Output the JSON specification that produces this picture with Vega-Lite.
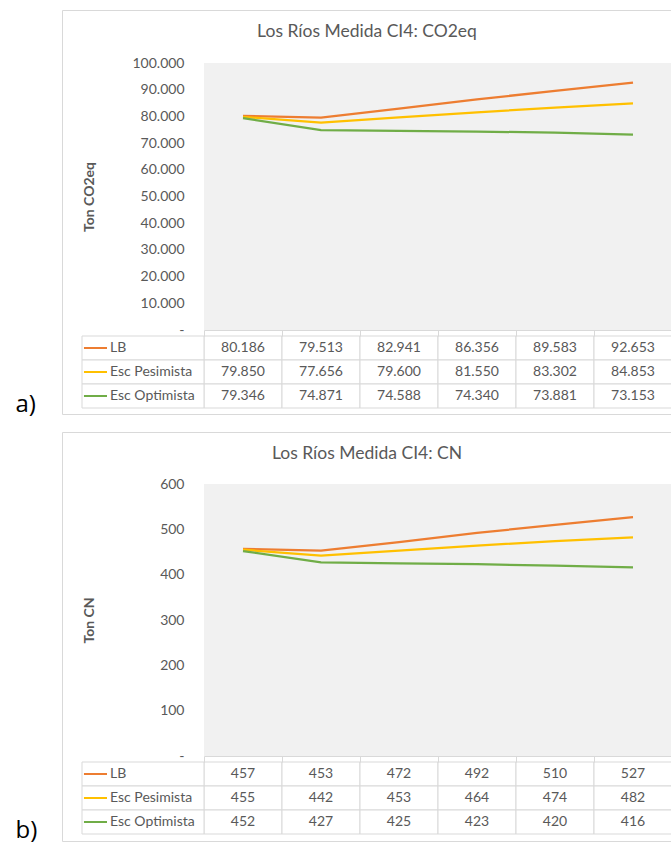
{
  "$schema": "https://vega.github.io/schema/vega-lite/v6.json",
  "padding": {"left": 14, "top": 9, "right": 0, "bottom": 2},
  "background": "white",
  "bounds": "flush",
  "spacing": 18,
  "config": {
    "view": {"stroke": "#d9d9d9", "strokeWidth": 1},
    "font": "Lato",
    "locale": {"number": {"decimal": ",", "thousands": ".", "grouping": [3], "currency": ["$", ""]}}
  },
  "datasets": {
    "rows": [
      {"panel": "a", "serie": "LB", "t": 1, "value": 80186},
      {"panel": "a", "serie": "LB", "t": 2, "value": 79513},
      {"panel": "a", "serie": "LB", "t": 3, "value": 82941},
      {"panel": "a", "serie": "LB", "t": 4, "value": 86356},
      {"panel": "a", "serie": "LB", "t": 5, "value": 89583},
      {"panel": "a", "serie": "LB", "t": 6, "value": 92653},
      {"panel": "a", "serie": "Esc Pesimista", "t": 1, "value": 79850},
      {"panel": "a", "serie": "Esc Pesimista", "t": 2, "value": 77656},
      {"panel": "a", "serie": "Esc Pesimista", "t": 3, "value": 79600},
      {"panel": "a", "serie": "Esc Pesimista", "t": 4, "value": 81550},
      {"panel": "a", "serie": "Esc Pesimista", "t": 5, "value": 83302},
      {"panel": "a", "serie": "Esc Pesimista", "t": 6, "value": 84853},
      {"panel": "a", "serie": "Esc Optimista", "t": 1, "value": 79346},
      {"panel": "a", "serie": "Esc Optimista", "t": 2, "value": 74871},
      {"panel": "a", "serie": "Esc Optimista", "t": 3, "value": 74588},
      {"panel": "a", "serie": "Esc Optimista", "t": 4, "value": 74340},
      {"panel": "a", "serie": "Esc Optimista", "t": 5, "value": 73881},
      {"panel": "a", "serie": "Esc Optimista", "t": 6, "value": 73153},
      {"panel": "b", "serie": "LB", "t": 1, "value": 457},
      {"panel": "b", "serie": "LB", "t": 2, "value": 453},
      {"panel": "b", "serie": "LB", "t": 3, "value": 472},
      {"panel": "b", "serie": "LB", "t": 4, "value": 492},
      {"panel": "b", "serie": "LB", "t": 5, "value": 510},
      {"panel": "b", "serie": "LB", "t": 6, "value": 527},
      {"panel": "b", "serie": "Esc Pesimista", "t": 1, "value": 455},
      {"panel": "b", "serie": "Esc Pesimista", "t": 2, "value": 442},
      {"panel": "b", "serie": "Esc Pesimista", "t": 3, "value": 453},
      {"panel": "b", "serie": "Esc Pesimista", "t": 4, "value": 464},
      {"panel": "b", "serie": "Esc Pesimista", "t": 5, "value": 474},
      {"panel": "b", "serie": "Esc Pesimista", "t": 6, "value": 482},
      {"panel": "b", "serie": "Esc Optimista", "t": 1, "value": 452},
      {"panel": "b", "serie": "Esc Optimista", "t": 2, "value": 427},
      {"panel": "b", "serie": "Esc Optimista", "t": 3, "value": 425},
      {"panel": "b", "serie": "Esc Optimista", "t": 4, "value": 423},
      {"panel": "b", "serie": "Esc Optimista", "t": 5, "value": 420},
      {"panel": "b", "serie": "Esc Optimista", "t": 6, "value": 416}
    ]
  },
  "data": {"name": "rows"},
  "vconcat": [
    {
      "width": 610,
      "height": 404,
      "title": {"text": "Los Ríos Medida CI4: CO2eq", "frame": "group", "anchor": "middle", "offset": -39, "baseline": "middle", "fontSize": 17.5, "font": "Lato", "fontWeight": "normal", "color": "#595959"},
      "transform": [{"filter": "datum.panel === 'a'"}],
      "resolve": {"scale": {"x": "independent", "y": "independent", "color": "independent"}, "axis": {"x": "independent", "y": "independent"}},
      "layer": [
        {
          "layer": [
            {
              "transform": [{"filter": "datum.serie === 'LB'"}],
              "mark": {"type": "rect", "fill": "#f1f1f1"},
              "encoding": {
                "x": {"field": "t", "type": "ordinal", "scale": {"domain": [1, 2, 3, 4, 5, 6], "range": [142, 610], "paddingInner": 0, "paddingOuter": 0},
                  "axis": {"orient": "bottom", "offset": -84, "labels": false, "title": null, "tickBand": "extent", "tickSize": 6, "tickColor": "#d9d9d9", "domainColor": "#d9d9d9", "grid": false}},
                "y": {"datum": 100000, "type": "quantitative", "scale": {"domain": [0, 100000], "range": [320, 53], "nice": false},
                  "axis": {"orient": "left", "offset": -142, "title": "Ton CO2eq", "titleX": -115, "titleBaseline": "middle", "titleFontSize": 14, "titleFontWeight": "bold", "titleColor": "#595959", "titleFont": "Lato", "labelPadding": 20, "ticks": false, "tickSize": 0, "domain": false, "grid": false, "tickCount": 10, "format": ",d", "labelExpr": "datum.value === 0 ? '-' : datum.label", "labelFontSize": 14, "labelColor": "#595959", "labelFont": "Lato"}},
                "y2": {"datum": 0}
              }
            },
            {
              "mark": {"type": "line", "strokeWidth": 2.25},
              "encoding": {
                "x": {"field": "t", "type": "ordinal"},
                "y": {"field": "value", "type": "quantitative"},
                "color": {"field": "serie", "type": "nominal", "scale": {"domain": ["LB", "Esc Pesimista", "Esc Optimista"], "range": ["#ED7D31", "#FFC000", "#70AD47"]}, "legend": null}
              }
            }
          ]
        },
        {
          "layer": [
            {
              "mark": {"type": "rect", "fill": "white", "stroke": "#d9d9d9", "strokeWidth": 1},
              "encoding": {
                "x": {"field": "t", "type": "ordinal", "scale": {"domain": [1, 2, 3, 4, 5, 6], "range": [142, 610], "paddingInner": 0, "paddingOuter": 0}, "axis": null},
                "y": {"field": "serie", "type": "nominal", "scale": {"domain": ["LB", "Esc Pesimista", "Esc Optimista"], "range": [326, 398], "paddingInner": 0, "paddingOuter": 0},
                  "axis": {"orient": "left", "labels": false, "ticks": false, "domain": false, "grid": false, "title": "a)", "titleAngle": 0, "titleAlign": "left", "titleBaseline": "middle", "titleX": -47, "titleY": 394, "titleFontSize": 24, "titleFont": "Open Sans", "titleFontWeight": "normal", "titleColor": "#000000"}}
              }
            },
            {
              "mark": {"type": "text", "fontSize": 14, "color": "#595959", "baseline": "middle", "font": "Lato"},
              "encoding": {
                "x": {"field": "t", "type": "ordinal"},
                "y": {"field": "serie", "type": "nominal"},
                "text": {"field": "value", "type": "quantitative", "format": ",d"}
              }
            }
          ]
        },
        {
          "transform": [{"filter": "datum.t === 1"}],
          "layer": [
            {
              "mark": {"type": "rect", "fill": "white", "stroke": "#d9d9d9", "strokeWidth": 1},
              "encoding": {
                "x": {"datum": 0, "type": "quantitative", "scale": {"domain": [0, 1], "range": [20, 142], "nice": false, "zero": false}, "axis": null},
                "x2": {"datum": 1},
                "y": {"field": "serie", "type": "nominal", "scale": {"domain": ["LB", "Esc Pesimista", "Esc Optimista"], "range": [326, 398], "paddingInner": 0, "paddingOuter": 0}, "axis": null}
              }
            },
            {
              "mark": {"type": "rule", "strokeWidth": 2},
              "encoding": {
                "x": {"datum": 0.016, "type": "quantitative"},
                "x2": {"datum": 0.205},
                "y": {"field": "serie", "type": "nominal"},
                "color": {"field": "serie", "type": "nominal", "scale": {"domain": ["LB", "Esc Pesimista", "Esc Optimista"], "range": ["#ED7D31", "#FFC000", "#70AD47"]}, "legend": null}
              }
            },
            {
              "mark": {"type": "text", "align": "left", "baseline": "middle", "fontSize": 14, "color": "#595959", "font": "Lato"},
              "encoding": {
                "x": {"datum": 0.23, "type": "quantitative"},
                "y": {"field": "serie", "type": "nominal"},
                "text": {"field": "serie", "type": "nominal"}
              }
            }
          ]
        }
      ]
    },
    {
      "width": 610,
      "height": 409,
      "title": {"text": "Los Ríos Medida CI4: CN", "frame": "group", "anchor": "middle", "offset": -39, "baseline": "middle", "fontSize": 17.5, "font": "Lato", "fontWeight": "normal", "color": "#595959"},
      "transform": [{"filter": "datum.panel === 'b'"}],
      "resolve": {"scale": {"x": "independent", "y": "independent", "color": "independent"}, "axis": {"x": "independent", "y": "independent"}},
      "layer": [
        {
          "layer": [
            {
              "transform": [{"filter": "datum.serie === 'LB'"}],
              "mark": {"type": "rect", "fill": "#f1f1f1"},
              "encoding": {
                "x": {"field": "t", "type": "ordinal", "scale": {"domain": [1, 2, 3, 4, 5, 6], "range": [142, 610], "paddingInner": 0, "paddingOuter": 0},
                  "axis": {"orient": "bottom", "offset": -85, "labels": false, "title": null, "tickBand": "extent", "tickSize": 6, "tickColor": "#d9d9d9", "domainColor": "#d9d9d9", "grid": false}},
                "y": {"datum": 600, "type": "quantitative", "scale": {"domain": [0, 600], "range": [324, 52], "nice": false},
                  "axis": {"orient": "left", "offset": -142, "title": "Ton CN", "titleX": -115, "titleBaseline": "middle", "titleFontSize": 14, "titleFontWeight": "bold", "titleColor": "#595959", "titleFont": "Lato", "labelPadding": 20, "ticks": false, "tickSize": 0, "domain": false, "grid": false, "tickCount": 6, "format": ",d", "labelExpr": "datum.value === 0 ? '-' : datum.label", "labelFontSize": 14, "labelColor": "#595959", "labelFont": "Lato"}},
                "y2": {"datum": 0}
              }
            },
            {
              "mark": {"type": "line", "strokeWidth": 2.25},
              "encoding": {
                "x": {"field": "t", "type": "ordinal"},
                "y": {"field": "value", "type": "quantitative"},
                "color": {"field": "serie", "type": "nominal", "scale": {"domain": ["LB", "Esc Pesimista", "Esc Optimista"], "range": ["#ED7D31", "#FFC000", "#70AD47"]}, "legend": null}
              }
            }
          ]
        },
        {
          "layer": [
            {
              "mark": {"type": "rect", "fill": "white", "stroke": "#d9d9d9", "strokeWidth": 1},
              "encoding": {
                "x": {"field": "t", "type": "ordinal", "scale": {"domain": [1, 2, 3, 4, 5, 6], "range": [142, 610], "paddingInner": 0, "paddingOuter": 0}, "axis": null},
                "y": {"field": "serie", "type": "nominal", "scale": {"domain": ["LB", "Esc Pesimista", "Esc Optimista"], "range": [330, 402], "paddingInner": 0, "paddingOuter": 0},
                  "axis": {"orient": "left", "labels": false, "ticks": false, "domain": false, "grid": false, "title": "b)", "titleAngle": 0, "titleAlign": "left", "titleBaseline": "middle", "titleX": -47, "titleY": 398, "titleFontSize": 24, "titleFont": "Open Sans", "titleFontWeight": "normal", "titleColor": "#000000"}}
              }
            },
            {
              "mark": {"type": "text", "fontSize": 14, "color": "#595959", "baseline": "middle", "font": "Lato"},
              "encoding": {
                "x": {"field": "t", "type": "ordinal"},
                "y": {"field": "serie", "type": "nominal"},
                "text": {"field": "value", "type": "quantitative", "format": ",d"}
              }
            }
          ]
        },
        {
          "transform": [{"filter": "datum.t === 1"}],
          "layer": [
            {
              "mark": {"type": "rect", "fill": "white", "stroke": "#d9d9d9", "strokeWidth": 1},
              "encoding": {
                "x": {"datum": 0, "type": "quantitative", "scale": {"domain": [0, 1], "range": [20, 142], "nice": false, "zero": false}, "axis": null},
                "x2": {"datum": 1},
                "y": {"field": "serie", "type": "nominal", "scale": {"domain": ["LB", "Esc Pesimista", "Esc Optimista"], "range": [330, 402], "paddingInner": 0, "paddingOuter": 0}, "axis": null}
              }
            },
            {
              "mark": {"type": "rule", "strokeWidth": 2},
              "encoding": {
                "x": {"datum": 0.016, "type": "quantitative"},
                "x2": {"datum": 0.205},
                "y": {"field": "serie", "type": "nominal"},
                "color": {"field": "serie", "type": "nominal", "scale": {"domain": ["LB", "Esc Pesimista", "Esc Optimista"], "range": ["#ED7D31", "#FFC000", "#70AD47"]}, "legend": null}
              }
            },
            {
              "mark": {"type": "text", "align": "left", "baseline": "middle", "fontSize": 14, "color": "#595959", "font": "Lato"},
              "encoding": {
                "x": {"datum": 0.23, "type": "quantitative"},
                "y": {"field": "serie", "type": "nominal"},
                "text": {"field": "serie", "type": "nominal"}
              }
            }
          ]
        }
      ]
    }
  ]
}
